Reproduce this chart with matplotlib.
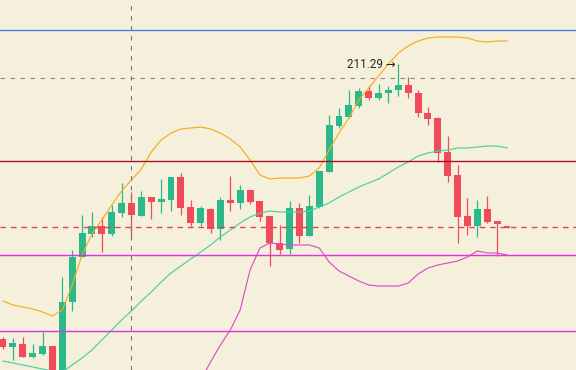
import numpy as np
import matplotlib
matplotlib.use("Agg")
import matplotlib.pyplot as plt

# OHLC por vela (índice 0..51)
opens = [183.79, 182.99, 183.29, 181.99, 182.29, 183.09, 179.89, 187.49, 191.99, 194.29,
         195.09, 194.29, 196.39, 197.39, 196.09, 197.99, 197.49, 197.69, 199.99, 196.99,
         195.39, 196.79, 194.79, 197.69, 197.39, 198.69, 197.59, 196.09, 193.39, 192.79,
         196.89, 194.09, 196.99, 200.49, 205.09, 205.99, 207.09, 208.59, 207.89, 208.39,
         208.69, 209.19, 208.39, 206.39, 205.89, 202.49, 200.19, 196.09, 195.09, 196.79,
         195.59, 195.09]
highs = [183.99, 183.89, 183.99, 183.29, 184.49, 183.09, 189.99, 192.69, 196.19, 196.49,
         195.99, 197.19, 199.39, 198.49, 198.59, 197.99, 199.79, 199.99, 200.39, 197.69,
         197.09, 196.89, 197.99, 200.09, 199.19, 198.69, 197.59, 196.09, 195.19, 197.59,
         197.39, 198.19, 200.59, 206.19, 206.89, 208.69, 208.89, 209.09, 209.29, 209.09,
         211.29, 209.99, 208.69, 206.99, 205.99, 204.09, 201.19, 197.89, 197.69, 198.09,
         195.59, 195.09]
lows = [182.79, 181.69, 181.99, 181.89, 182.19, 179.69, 179.69, 186.59, 191.99, 193.99,
        192.49, 194.09, 195.99, 193.89, 196.09, 195.79, 196.39, 196.59, 196.19, 195.09,
        195.09, 194.39, 193.69, 196.59, 196.79, 197.29, 195.59, 191.09, 192.29, 192.29,
        193.39, 194.09, 196.89, 200.49, 204.89, 205.89, 206.89, 207.69, 207.69, 207.39,
        208.09, 207.89, 205.99, 205.19, 201.49, 199.49, 193.39, 194.19, 193.99, 195.39,
        192.09, 194.89]
closes = [182.99, 183.39, 181.99, 182.39, 183.09, 179.89, 187.49, 191.99, 194.39, 195.09,
          194.29, 196.49, 197.39, 196.19, 197.99, 197.49, 197.79, 199.99, 196.89, 195.39,
          196.89, 194.79, 197.69, 197.39, 198.69, 197.49, 195.99, 193.39, 192.69, 196.89,
          194.09, 197.09, 200.59, 205.19, 206.09, 207.19, 208.59, 207.89, 208.39, 208.69,
          209.19, 208.39, 206.39, 205.79, 202.39, 200.09, 195.99, 195.09, 196.79, 195.49,
          195.29, 194.89]

# Bandas de Bollinger
upper_band = [187.59, 187.19, 186.99, 186.79, 186.49, 186.09, 186.69, 189.19, 192.19, 194.29,
              195.69, 197.19, 198.59, 199.69, 200.79, 202.49, 203.69, 204.39, 204.79, 204.89,
              204.99, 204.79, 204.39, 203.79, 202.99, 201.69, 200.19, 199.79, 199.89, 199.89,
              199.89, 200.09, 200.89, 202.69, 204.39, 205.89, 207.69, 208.89, 210.09, 211.29,
              212.39, 213.09, 213.59, 213.89, 213.99, 213.99, 213.99, 213.89, 213.59, 213.49,
              213.59, 213.59]
middle_band = [181.59, 181.39, 181.19, 180.99, 180.79, 180.59, 180.49, 181.19, 181.89, 182.69,
               183.69, 184.69, 185.69, 186.59, 187.59, 188.49, 189.49, 190.39, 191.09, 191.79,
               192.49, 193.19, 193.99, 194.69, 195.39, 195.99, 196.39, 196.59, 196.49, 196.49,
               196.49, 196.59, 196.99, 197.39, 197.99, 198.49, 198.99, 199.39, 199.79, 200.39,
               200.99, 201.49, 202.09, 202.39, 202.59, 202.69, 202.89, 202.89, 202.99, 203.09,
               203.09, 202.89]
lower_band = [None] * 20 + [
    179.69, 181.49, 183.19, 184.69, 186.69, 190.69, 192.89, 193.39, 193.29, 193.19,
    193.19, 193.19, 192.89, 191.49, 190.59, 190.09, 189.59, 189.19, 189.09, 189.09,
    189.09, 189.39, 190.29, 190.89, 191.19, 191.39, 191.59, 191.99, 192.59, 192.39,
    192.39, 192.19]

# Niveles horizontales
level_blue = 214.66
level_gray = 209.86
level_darkred = 201.59
level_red_dash = 194.99
level_magenta = [192.19, 184.59]
cursor_x = 12.95
peak_label = "211.29"

BG = "#f5f0dc"
UP = "#2bb98c"
DOWN = "#ef4b5b"

fig = plt.figure(figsize=(5.76, 3.70), dpi=100, facecolor=BG)
ax = fig.add_axes([0, 0, 1, 1])
ax.set_facecolor(BG)

n = len(opens)
x = np.arange(n)
o = np.array(opens)
c = np.array(closes)
colors = [UP if cc >= oo else DOWN for oo, cc in zip(o, c)]

# velas
ax.vlines(x, lows, highs, colors=colors, linewidth=0.9, zorder=2)
bottoms = np.minimum(o, c)
heights = np.maximum(np.abs(c - o), 0.15)
ax.bar(x, heights, bottom=bottoms, width=0.7, color=colors, linewidth=0, zorder=3)

# bandas
ax.plot(x, upper_band, color="#f5ac1e", linewidth=0.85, zorder=4)
ax.plot(x, middle_band, color="#4ccf9f", linewidth=0.85, zorder=4)
lb = np.array([np.nan if v is None else v for v in lower_band])
ax.plot(x, lb, color="#dc4fc9", linewidth=0.85, zorder=4)

# líneas horizontales y cursor
ax.axhline(level_blue, color="#4a80d8", linewidth=1.0, zorder=5)
ax.axhline(level_gray, color="#888888", linewidth=0.8, dashes=(4, 5), zorder=5)
ax.axhline(level_darkred, color="#a8102c", linewidth=1.0, zorder=5)
ax.axhline(level_red_dash, color="#e8404f", linewidth=1.0, dashes=(4, 3.5), zorder=5)
for lv in level_magenta:
    ax.axhline(lv, color="#d83ad8", linewidth=1.05, zorder=5)
ax.axvline(cursor_x, color="#777777", linewidth=0.8, dashes=(4, 5), zorder=5)

# etiqueta del máximo
imax = int(np.argmax(highs))
ax.text(imax - 0.3, highs[imax], peak_label + " \u2192", ha="right", va="center",
        fontsize=8.4, color="#222222", family=["Roboto", "DejaVu Sans"], zorder=6)

ax.set_xlim(-0.3036, 57.98)
ax.set_ylim(180.69, 217.69)
ax.axis("off")

fig.savefig("out.png", dpi=100, facecolor=BG)
